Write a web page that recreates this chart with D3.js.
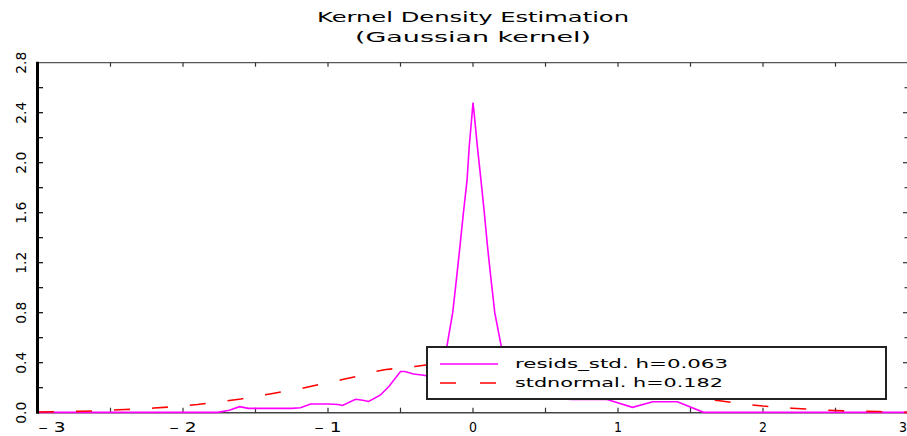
<!DOCTYPE html>
<html>
<head>
<meta charset="utf-8">
<script src="https://cdn.jsdelivr.net/npm/d3@7/dist/d3.min.js"></script>
<style>
  body { margin: 0; background: #fff; }
  text { font-family: "DejaVu Sans", sans-serif; fill: #000; }
</style>
</head>
<body>
<div id="chart"></div>
<script>
// data
var residsX = [-3.0, -2.5, -2.0, -1.76, -1.68, -1.61, -1.55, -1.40, -1.25, -1.19, -1.12, -1.00, -0.93, -0.90,
  -0.81, -0.76, -0.72, -0.64, -0.58, -0.50, -0.47, -0.41, -0.34, -0.30, -0.25, -0.20, -0.181, -0.14,
  -0.115, -0.09, -0.066, -0.041, -0.026, -0.008, 0.0, 0.01, 0.03, 0.055, 0.078, 0.10, 0.125, 0.15,
  0.196, 0.25, 0.35, 0.50, 0.60, 0.69, 0.92, 1.10, 1.24, 1.41, 1.59, 2.0, 2.5, 3.0];
var residsY = [0.003, 0.003, 0.003, 0.003, 0.02, 0.048, 0.035, 0.035, 0.035, 0.04, 0.07, 0.07, 0.065, 0.058,
  0.107, 0.10, 0.09, 0.14, 0.21, 0.33, 0.33, 0.31, 0.30, 0.29, 0.35, 0.45, 0.525, 0.80,
  1.06, 1.33, 1.60, 1.86, 2.13, 2.37, 2.48, 2.37, 2.13, 1.86, 1.60, 1.33, 1.06, 0.80,
  0.525, 0.35, 0.22, 0.14, 0.11, 0.107, 0.107, 0.043, 0.088, 0.088, 0.003, 0.003, 0.003, 0.003];

var normX = [-3.0, -2.9, -2.8, -2.7, -2.6, -2.5, -2.4, -2.3, -2.2, -2.1, -2.0, -1.9, -1.8, -1.7, -1.6, -1.5,
  -1.4, -1.3, -1.2, -1.1, -1.0, -0.9, -0.8, -0.7, -0.6, -0.5, -0.4, -0.3, -0.2, -0.1, 0.0,
  0.1, 0.2, 0.3, 0.4, 0.5, 0.6, 0.7, 0.8, 0.9, 1.0, 1.1, 1.2, 1.3, 1.4, 1.5,
  1.6, 1.7, 1.8, 1.9, 2.0, 2.1, 2.2, 2.3, 2.4, 2.5, 2.6, 2.7, 2.8, 2.9, 3.0];
var normY = [0.005, 0.007, 0.009, 0.012, 0.015, 0.02, 0.025, 0.03, 0.037, 0.045, 0.055, 0.065, 0.08, 0.095, 0.11, 0.13,
  0.15, 0.17, 0.19, 0.215, 0.24, 0.265, 0.29, 0.325, 0.345, 0.358, 0.37, 0.385, 0.392, 0.397, 0.40,
  0.397, 0.392, 0.385, 0.37, 0.355, 0.335, 0.315, 0.29, 0.265, 0.24, 0.215, 0.19, 0.17, 0.15, 0.13,
  0.11, 0.095, 0.08, 0.065, 0.053, 0.044, 0.036, 0.029, 0.022, 0.017, 0.013, 0.011, 0.009, 0.005, 0.002];

var yLabelTicks = [0.0, 0.4, 0.8, 1.2, 1.6, 2.0, 2.4, 2.8];
var xLabelTicks = [-3, -2, -1, 0, 1, 2, 3];
var legendLabels = ["resids_std. h=0.063", "stdnormal. h=0.182"];
var titleLines = ["Kernel Density Estimation", "(Gaussian kernel)"];

var width = 907, height = 436;
var plotLeft = 38, plotRight = 908, plotTop = 62.7, plotBottom = 412.7;

var svg = d3.select("#chart")
  .append("svg")
    .attr("width", width)
    .attr("height", height);

var x = d3.scaleLinear().domain([-3, 3]).range([plotLeft, plotRight]);
var y = d3.scaleLinear().domain([0, 2.8]).range([plotBottom, plotTop]);

// title
svg.selectAll(".title")
  .data(titleLines)
  .enter()
  .append("text")
    .attr("class", "title")
    .attr("x", x(0))
    .attr("y", function(d, i) { return 22 + i * 20; })
    .attr("text-anchor", "middle")
    .style("font-size", "14px")
    .attr("textLength", function(d, i) { return i == 0 ? 312 : 236; })
    .attr("lengthAdjust", "spacingAndGlyphs")
    .text(function(d) { return d; });

// frame: top and bottom lines (gray)
svg.append("line").attr("x1", plotLeft).attr("x2", plotRight).attr("y1", plotTop).attr("y2", plotTop)
  .attr("stroke", "#555").attr("stroke-width", 1.2);
svg.append("line").attr("x1", plotLeft).attr("x2", plotRight).attr("y1", plotBottom).attr("y2", plotBottom)
  .attr("stroke", "#444").attr("stroke-width", 1.5);

// top / bottom ticks every 0.5 (inward)
var halfTicks = d3.range(-2.5, 3, 0.5);
svg.append("g").selectAll("line")
  .data(halfTicks)
  .enter().append("line")
    .attr("x1", function(d) { return x(d); }).attr("x2", function(d) { return x(d); })
    .attr("y1", plotTop).attr("y2", plotTop + 4)
    .attr("stroke", "#333").attr("stroke-width", 1.2);
svg.append("g").selectAll("line")
  .data(halfTicks)
  .enter().append("line")
    .attr("x1", function(d) { return x(d); }).attr("x2", function(d) { return x(d); })
    .attr("y1", plotBottom).attr("y2", plotBottom - 5)
    .attr("stroke", "#333").attr("stroke-width", 1.2);

// right side ticks every 0.2 (long on labelled ones)
var fifthTicks = d3.range(1, 14).map(function(i) { return i * 0.2; });
svg.append("g").selectAll("line")
  .data(fifthTicks)
  .enter().append("line")
    .attr("x1", 907).attr("x2", function(d, i) { return i % 2 == 1 ? 903 : 904.5; })
    .attr("y1", function(d) { return y(d); }).attr("y2", function(d) { return y(d); })
    .attr("stroke", "#333").attr("stroke-width", 1.2);

// curves
var line = d3.line()
  .x(function(d) { return x(d[0]); })
  .y(function(d) { return y(d[1]); });

svg.append("path")
  .datum(d3.zip(residsX, residsY))
  .attr("d", line)
  .attr("fill", "none")
  .attr("stroke", "#ff00ff")
  .attr("stroke-width", 1.6);

svg.append("path")
  .datum(d3.zip(normX, normY))
  .attr("d", line)
  .attr("fill", "none")
  .attr("stroke", "#ff0000")
  .attr("stroke-width", 1.6)
  .attr("stroke-dasharray", "16,22");

// left axis: thick black line, inward ticks every 0.2
svg.append("line").attr("x1", plotLeft - 0.5).attr("x2", plotLeft - 0.5).attr("y1", plotTop - 1).attr("y2", plotBottom + 1)
  .attr("stroke", "#000").attr("stroke-width", 3);
svg.append("g").selectAll("line")
  .data(fifthTicks)
  .enter().append("line")
    .attr("x1", plotLeft).attr("x2", plotLeft + 5)
    .attr("y1", function(d) { return y(d); }).attr("y2", function(d) { return y(d); })
    .attr("stroke", "#000").attr("stroke-width", 1.2);

// y labels (rotated)
svg.append("g").selectAll("text")
  .data(yLabelTicks)
  .enter().append("text")
    .attr("transform", function(d) { return "translate(26," + y(d) + ") rotate(-90)"; })
    .attr("text-anchor", "middle")
    .style("font-size", "14px")
    .attr("textLength", 22)
    .attr("lengthAdjust", "spacingAndGlyphs")
    .text(function(d) { return d.toFixed(1); });

// x labels
svg.append("g").selectAll("text")
  .data(xLabelTicks)
  .enter().append("text")
    .attr("x", function(d) { return Math.min(Math.max(x(d), 52), 903); })
    .attr("y", 432)
    .attr("text-anchor", "middle")
    .style("font-size", "14px")
    .attr("textLength", function(d) { return d < 0 ? 27 : 8; })
    .attr("lengthAdjust", "spacingAndGlyphs")
    .text(function(d) { return d < 0 ? "\u2013 " + Math.abs(d) : d; });

// legend
var legend = svg.append("g");
legend.append("rect")
  .attr("x", 427).attr("y", 347).attr("width", 459).attr("height", 52)
  .attr("fill", "#fff").attr("stroke", "#222").attr("stroke-width", 2);
legend.append("line").attr("x1", 440).attr("x2", 498).attr("y1", 364).attr("y2", 364)
  .attr("stroke", "#ff00ff").attr("stroke-width", 1.6);
legend.append("line").attr("x1", 440).attr("x2", 498).attr("y1", 383).attr("y2", 383)
  .attr("stroke", "#ff0000").attr("stroke-width", 1.6).attr("stroke-dasharray", "16,24");
legend.selectAll("text")
  .data(legendLabels)
  .enter().append("text")
    .attr("x", 515)
    .attr("y", function(d, i) { return 368 + i * 19; })
    .style("font-size", "13px")
    .attr("textLength", function(d, i) { return i == 0 ? 213 : 208; })
    .attr("lengthAdjust", "spacingAndGlyphs")
    .text(function(d) { return d; });
</script>
</body>
</html>
